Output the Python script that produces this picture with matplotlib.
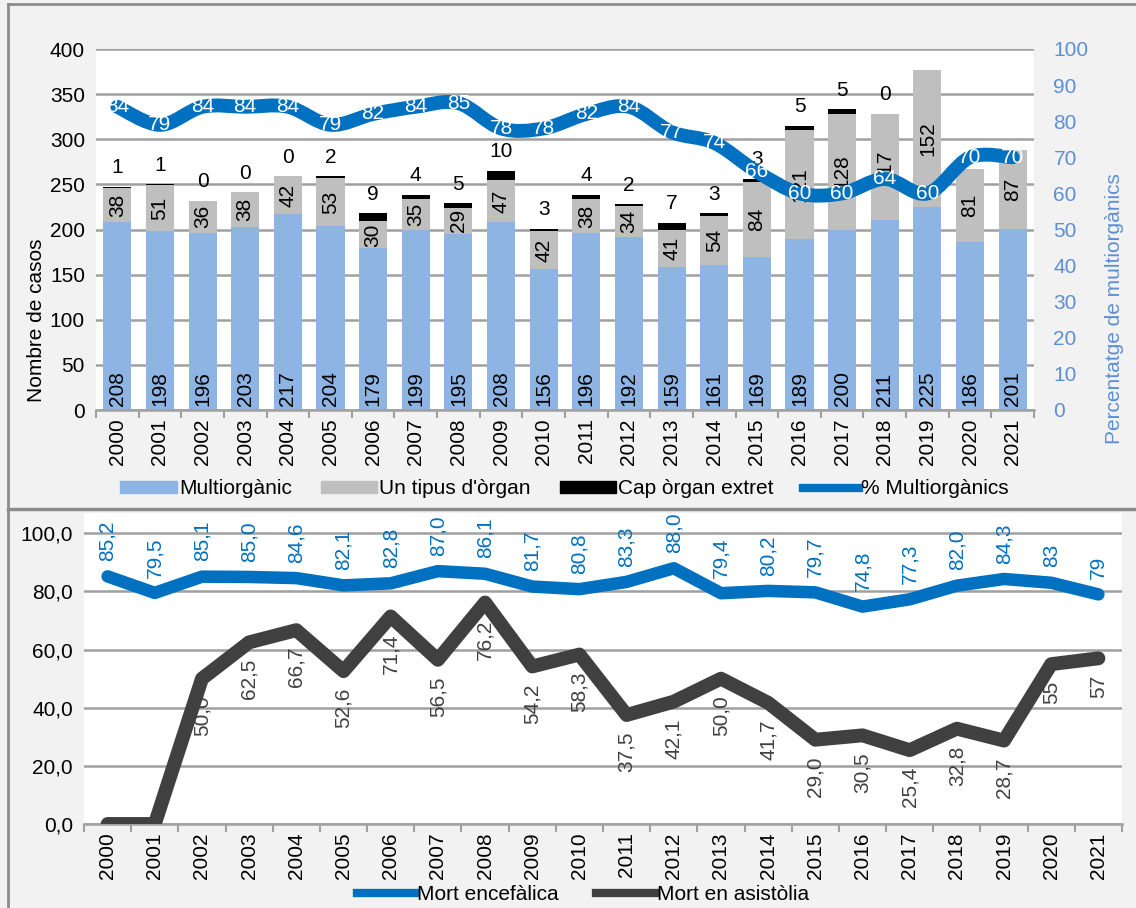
import matplotlib
matplotlib.use("Agg")
import matplotlib.pyplot as plt
from matplotlib.path import Path
from matplotlib.patches import PathPatch, Patch
from matplotlib.lines import Line2D
from matplotlib.ticker import FixedLocator

plt.rcParams["font.family"] = ["Liberation Sans", "DejaVu Sans"]
plt.rcParams["font.size"] = 15

years = [str(y) for y in range(2000, 2022)]

# top panel: cases by type
multi = [208, 198, 196, 203, 217, 204, 179, 199, 195, 208, 156,
         196, 192, 159, 161, 169, 189, 200, 211, 225, 186, 201]
un_tipus = [38, 51, 36, 38, 42, 53, 30, 35, 29, 47, 42,
            38, 34, 41, 54, 84, 121, 128, 117, 152, 81, 87]
cap_organ = [1, 1, 0, 0, 0, 2, 9, 4, 5, 10, 3,
             4, 2, 7, 3, 3, 5, 5, 0, None, None, None]
pct_multi = [84, 79, 84, 84, 84, 79, 82, 84, 85, 78, 78,
             82, 84, 77, 74, 66, 60, 60, 64, 60, 70, 70]

# bottom panel: % multiorgan by type of death
encefalica = [85.2, 79.5, 85.1, 85.0, 84.6, 82.1, 82.8, 87.0, 86.1, 81.7, 80.8,
              83.3, 88.0, 79.4, 80.2, 79.7, 74.8, 77.3, 82.0, 84.3, 83, 79]
encefalica_lbl = ["85,2", "79,5", "85,1", "85,0", "84,6", "82,1", "82,8", "87,0",
                  "86,1", "81,7", "80,8", "83,3", "88,0", "79,4", "80,2", "79,7",
                  "74,8", "77,3", "82,0", "84,3", "83", "79"]
asistolia = [0, 0, 50.0, 62.5, 66.7, 52.6, 71.4, 56.5, 76.2, 54.2, 58.3,
             37.5, 42.1, 50.0, 41.7, 29.0, 30.5, 25.4, 32.8, 28.7, 55, 57]
asistolia_lbl = ["", "", "50,0", "62,5", "66,7", "52,6", "71,4", "56,5", "76,2",
                 "54,2", "58,3", "37,5", "42,1", "50,0", "41,7", "29,0", "30,5",
                 "25,4", "32,8", "28,7", "55", "57"]

C_MULTI = "#8db4e2"
C_UN = "#bfbfbf"
C_CAP = "#000000"
C_BLUE = "#0070c0"
C_RIGHT = "#5b8fd6"
C_DARK = "#404040"
C_GRID = "#a0a0a0"
BG = "#f2f2f2"

fig = plt.figure(figsize=(11.36, 9.08), dpi=100, facecolor=BG)
W, H = 1136, 908

x = list(range(len(years)))
cap_vals = [c if c is not None else 0 for c in cap_organ]
base2 = [m + u for m, u in zip(multi, un_tipus)]

# ---------------- top panel ----------------
ax = fig.add_axes([96 / W, 1 - 410 / H, 938 / W, 361 / H])
ax.set_facecolor("white")
ax.bar(x, multi, width=0.66, color=C_MULTI, zorder=2)
ax.bar(x, un_tipus, bottom=multi, width=0.66, color=C_UN, zorder=2)
ax.bar(x, cap_vals, bottom=base2, width=0.66, color=C_CAP, zorder=2)

for i in x:
    ax.annotate(str(multi[i]), (i, 0), xytext=(0, 3), textcoords="offset points",
                rotation=90, ha="center", va="bottom", zorder=3)
    ax.text(i, multi[i] + un_tipus[i] / 2, str(un_tipus[i]), rotation=90,
            ha="center", va="center", zorder=3)
    if cap_organ[i] is not None:
        ax.annotate(str(cap_organ[i]), (i, base2[i] + cap_vals[i]), xytext=(0, 7),
                    textcoords="offset points", ha="center", va="bottom", zorder=3)

ax.set_xlim(-0.5, len(x) - 0.5)
ax.set_ylim(0, 400)
ax.set_yticks(range(0, 401, 50))
ax.set_xticks(x)
ax.set_xticklabels(years, rotation=90)
ax.xaxis.set_minor_locator(FixedLocator([i - 0.5 for i in range(len(x) + 1)]))
ax.tick_params(axis="x", which="major", length=0, pad=6)
ax.tick_params(axis="x", which="minor", length=6, color=C_GRID, width=1.5)
ax.tick_params(axis="y", length=0, pad=8)
ax.grid(axis="y", color=C_GRID, linewidth=1.8, zorder=0)
ax.set_axisbelow(True)
for s in ["top", "right", "left"]:
    ax.spines[s].set_visible(False)
ax.spines["bottom"].set_color(C_GRID)
ax.spines["bottom"].set_linewidth(1.8)
ax.set_ylabel("Nombre de casos")
ax.yaxis.set_label_coords(-0.053, 0.25)

ax2 = ax.twinx()
ax2.set_ylim(0, 100)
ax2.set_yticks(range(0, 101, 10))
ax2.tick_params(axis="y", length=0, colors=C_RIGHT, pad=14)
for s in ax2.spines.values():
    s.set_visible(False)
ax2.set_ylabel("Percentatge de multiorgànics", color=C_RIGHT)
ax2.yaxis.set_label_coords(1.076, 0.28)

# smoothed line (Catmull-Rom as cubic Bezier segments)
pts = list(zip(x, pct_multi))
verts = [pts[0]]
codes = [Path.MOVETO]
n = len(pts)
for k in range(n - 1):
    p0 = pts[k - 1] if k > 0 else pts[k]
    p1 = pts[k]
    p2 = pts[k + 1]
    p3 = pts[k + 2] if k + 2 < n else pts[k + 1]
    c1 = (p1[0] + (p2[0] - p0[0]) / 6, p1[1] + (p2[1] - p0[1]) / 6)
    c2 = (p2[0] - (p3[0] - p1[0]) / 6, p2[1] - (p3[1] - p1[1]) / 6)
    verts += [c1, c2, p2]
    codes += [Path.CURVE4] * 3
ax2.add_patch(PathPatch(Path(verts, codes), fill=False, edgecolor=C_BLUE,
                        linewidth=10, capstyle="round", joinstyle="round", zorder=4))
for i, v in zip(x, pct_multi):
    ax2.text(i, v, str(v), color="white", ha="center", va="center", zorder=5)

handles = [Patch(color=C_MULTI), Patch(color=C_UN), Patch(color=C_CAP),
           Line2D([], [], color=C_BLUE, linewidth=6)]
fig.legend(handles, ["Multiorgànic", "Un tipus d'òrgan", "Cap òrgan extret", "% Multiorgànics"],
           loc="center", bbox_to_anchor=(0.497, 1 - 489 / H), ncol=4, frameon=False,
           handlelength=2.7, handleheight=0.55, handletextpad=0.1, columnspacing=1.4)

# ---------------- bottom panel ----------------
bx = fig.add_axes([84 / W, 1 - 824 / H, 1038 / W, 311 / H])
bx.set_facecolor("white")
bx.plot(x, encefalica, color=C_BLUE, linewidth=9, solid_capstyle="round",
        solid_joinstyle="round", zorder=3)
bx.plot(x, asistolia, color=C_DARK, linewidth=10, solid_capstyle="round",
        solid_joinstyle="round", zorder=3)
for i in x:
    bx.annotate(encefalica_lbl[i], (i, encefalica[i]), xytext=(0, 11),
                textcoords="offset points", rotation=90, ha="center", va="bottom",
                color=C_BLUE, zorder=4)
    if asistolia_lbl[i]:
        bx.annotate(asistolia_lbl[i], (i, asistolia[i]), xytext=(0, -12),
                    textcoords="offset points", rotation=90, ha="center", va="top",
                    color=C_DARK, zorder=4)

bx.set_xlim(-0.5, len(x) - 0.5)
bx.set_ylim(0, 107)
bx.set_yticks(range(0, 101, 20))
bx.set_yticklabels(["%d,0" % v for v in range(0, 101, 20)])
bx.set_xticks(x)
bx.set_xticklabels(years, rotation=90)
bx.xaxis.set_minor_locator(FixedLocator([i - 0.5 for i in range(len(x) + 1)]))
bx.tick_params(axis="x", which="major", length=0, pad=6)
bx.tick_params(axis="x", which="minor", length=6, color=C_GRID, width=1.5)
bx.tick_params(axis="y", length=0, pad=8)
bx.grid(axis="y", color=C_GRID, linewidth=1.8, zorder=0)
bx.set_axisbelow(True)
for s in ["top", "right", "left"]:
    bx.spines[s].set_visible(False)
bx.spines["bottom"].set_color(C_GRID)
bx.spines["bottom"].set_linewidth(1.8)

fig.legend([Line2D([], [], color=C_BLUE, linewidth=6), Line2D([], [], color=C_DARK, linewidth=6)],
           ["Mort encefàlica", "Mort en asistòlia"],
           loc="center", bbox_to_anchor=(0.513, 1 - 895 / H), ncol=2, frameon=False,
           handlelength=2.8, handletextpad=0.1, columnspacing=1.8)

# panel frames
fc = "#8c8c8c"
fig.add_artist(Line2D([7.5 / W, 7.5 / W], [0, 1 - 3.5 / H], color=fc, linewidth=2,
                      transform=fig.transFigure))
fig.add_artist(Line2D([7.5 / W, 1], [1 - 3.5 / H, 1 - 3.5 / H], color=fc, linewidth=2,
                      transform=fig.transFigure))
fig.add_artist(Line2D([7.5 / W, 1], [1 - 508.5 / H, 1 - 508.5 / H], color=fc, linewidth=2.5,
                      transform=fig.transFigure))

fig.savefig("out.png", dpi=100, facecolor=BG)
